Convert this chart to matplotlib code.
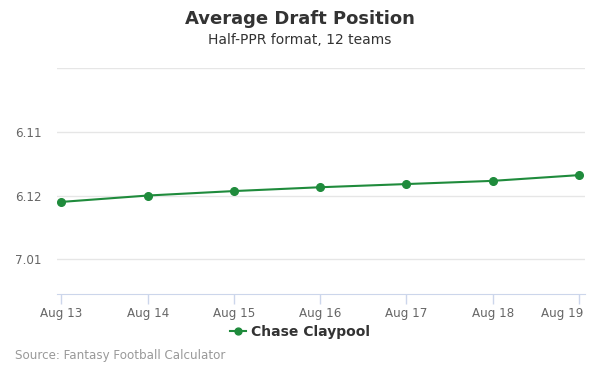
import matplotlib.pyplot as plt
import matplotlib.transforms as mtransforms
from matplotlib.ticker import FixedLocator, FuncFormatter

# ADP data (overall pick number, 12-team league)
dates = ["Aug 13", "Aug 14", "Aug 15", "Aug 16", "Aug 17", "Aug 18", "Aug 19"]
adp = [72.10, 72.00, 71.93, 71.87, 71.82, 71.77, 71.68]
player = "Chase Claypool"
teams = 12

def pick_label(v, pos=None):
    #overall pick -> round.pick
    p = int(round(v))
    rnd = (p - 1) // teams + 1
    pk = (p - 1) % teams + 1
    if p == 70:
        return ""
    return "%d.%02d" % (rnd, pk)

fig = plt.figure(figsize=(6, 3.75), dpi=100)
ax = fig.add_axes([0.095, 0.215, 0.88, 0.6037])

green = "#1f8b3c"
x = list(range(len(dates)))
ax.plot(x, adp, color=green, lw=1.5, marker="o", ms=5.5, label=player, zorder=3)

ax.set_xlim(-0.052, 6.07)
ax.set_ylim(73.55, 70)
ax.yaxis.set_major_locator(FixedLocator([70, 71, 72, 73]))
ax.yaxis.set_major_formatter(FuncFormatter(pick_label))
ax.set_xticks(x)
ax.set_xticklabels(dates)

ax.grid(axis="y", color="#e6e6e6", lw=1)
ax.set_axisbelow(True)
for s in ["top", "right", "left"]:
    ax.spines[s].set_visible(False)
ax.spines["bottom"].set_color("#ccd6eb")
ax.tick_params(axis="x", colors="#ccd6eb", length=7, width=1, labelcolor="#666666", labelsize=8.6, pad=2)
ax.tick_params(axis="y", length=0, labelcolor="#666666", labelsize=8.6, pad=11)

#last label kept inside the plot like the original
last = ax.get_xticklabels()[-1]
last.set_ha("right")
last.set_transform(last.get_transform() + mtransforms.ScaledTranslation(4 / 100, 0, fig.dpi_scale_trans))

fig.text(0.5, 0.948, "Average Draft Position", ha="center", va="center",
         fontsize=13, fontweight="bold", color="#333333")
fig.text(0.5, 0.892, "Half-PPR format, 12 teams", ha="center", va="center",
         fontsize=10, color="#333333")

leg = fig.legend(loc="center", bbox_to_anchor=(0.5, 0.115), frameon=False,
                 prop={"weight": "bold", "size": 10}, handlelength=1.15, handletextpad=0.35,
                 markerscale=0.9)
for t in leg.get_texts():
    t.set_color("#333333")

fig.text(0.025, 0.051, "Source: Fantasy Football Calculator", ha="left", va="center",
         fontsize=8.6, color="#999999")

fig.savefig("out.png", dpi=100)
